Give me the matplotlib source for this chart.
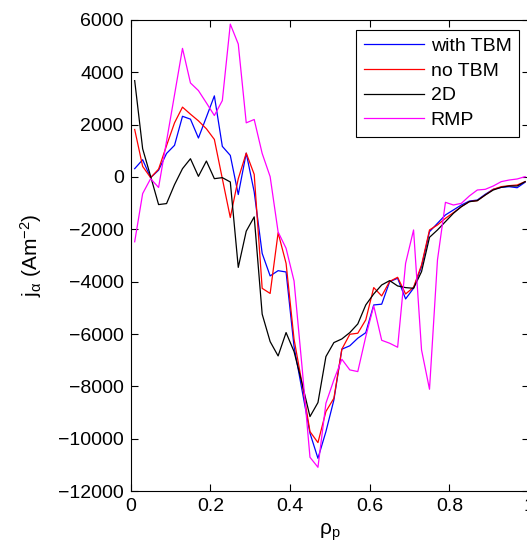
import numpy as np
import matplotlib
matplotlib.use('Agg')
from matplotlib import pyplot as plt

plt.rcParams['font.family'] = ['Liberation Sans', 'DejaVu Sans']
plt.rcParams['mathtext.fontset'] = 'custom'
plt.rcParams['mathtext.rm'] = 'Liberation Sans'
plt.rcParams['mathtext.it'] = 'Liberation Sans:italic'
plt.rcParams['mathtext.default'] = 'regular'

# rho_p grid
rho = np.arange(0.01, 1.0, 0.02)

with_tbm = [318, 660, -25, 260, 900, 1210, 2320, 2210, 1490, 2290,
            3100, 1170, 825, -670, 910, -570, -2920, -3780, -3580, -3630,
            -6480, -8140, -9790, -10750, -9730, -8520, -6580, -6450, -6160, -5950,
            -4890, -4860, -4000, -3870, -4660, -4250, -3420, -2090, -1770, -1450,
            -1260, -1070, -920, -880, -660, -470, -395, -370, -410, -200]

no_tbm = [1816, 406, -25, 300, 1200, 2070, 2670, 2400, 2146, 1842,
          1435, -64, -1549, -64, 914, 100, -4254, -4450, -2130, -3300,
          -6200, -7880, -9730, -10150, -8960, -8455, -6580, -6010, -5970, -5460,
          -4227, -4545, -3990, -3833, -4470, -4215, -3361, -2024, -1833, -1579,
          -1363, -1133, -942, -904, -688, -471, -369, -331, -306, -178]

two_d = [3683, 1080, 25, -1054, -1016, -292, 318, 698, 25, 610,
         -64, -25, -190, -3454, -2070, -1524, -5240, -6290, -6838, -5945,
         -6671, -7880, -9155, -8620, -6862, -6328, -6188, -5945, -5616, -4890,
         -4470, -4126, -3960, -4164, -4227, -4253, -3616, -2305, -2024, -1706,
         -1388, -1133, -942, -904, -688, -497, -395, -344, -344, -178]

rmp = [-2476, -635, -64, -400, 1370, 3140, 4915, 3594, 3302, 2832,
       2350, 2921, 5842, 5080, 2070, 2197, 900, 13, -2100, -2725,
       -3973, -7245, -10710, -11093, -8646, -7754, -6964, -7372, -7436, -6100,
       -4925, -6240, -6353, -6506, -3297, -2024, -6608, -8111, -3170, -968,
       -1070, -1006, -726, -497, -471, -344, -178, -115, -76, 13]

fig = plt.figure(figsize=(5.27, 5.46), dpi=100)
ax = fig.add_axes([0.248, 0.1007, 0.756, 0.8627])

ax.plot(rho, with_tbm, color='#0000ff', lw=0.9, label='with TBM')
ax.plot(rho, no_tbm, color='#ff0000', lw=0.9, label='no TBM')
ax.plot(rho, two_d, color='black', lw=0.9, label='2D')
ax.plot(rho, rmp, color='#ff00ff', lw=0.9, label='RMP')

ax.set_xlim(0, 1)
ax.set_ylim(-12000, 6000)
ax.set_xticks([0, 0.2, 0.4, 0.6, 0.8, 1])
ax.set_xticklabels(['0', '0.2', '0.4', '0.6', '0.8', '1'])
ax.set_yticks(np.arange(-12000, 6001, 2000))
ax.set_yticklabels(['\u2212' + str(abs(v)) if v < 0 else str(v)
                    for v in range(-12000, 6001, 2000)])
ax.tick_params(direction='in', top=True, right=True, length=5, width=0.8,
               labelsize=14, pad=5)
for s in ax.spines.values():
    s.set_linewidth(0.8)

ax.set_xlabel('\u03c1$_p$', fontsize=15, labelpad=5)
ax.set_ylabel('j$_\u03b1$ (Am$^{-2}$)', fontsize=15, labelpad=10)

leg = ax.legend(loc='upper right', fontsize=14, handlelength=3.1,
                labelspacing=0.36, borderaxespad=0.5, fancybox=False,
                edgecolor='black', framealpha=1, handletextpad=0.35,
                borderpad=0.4)
leg.get_frame().set_linewidth(0.8)

fig.savefig('out.png', dpi=100)
